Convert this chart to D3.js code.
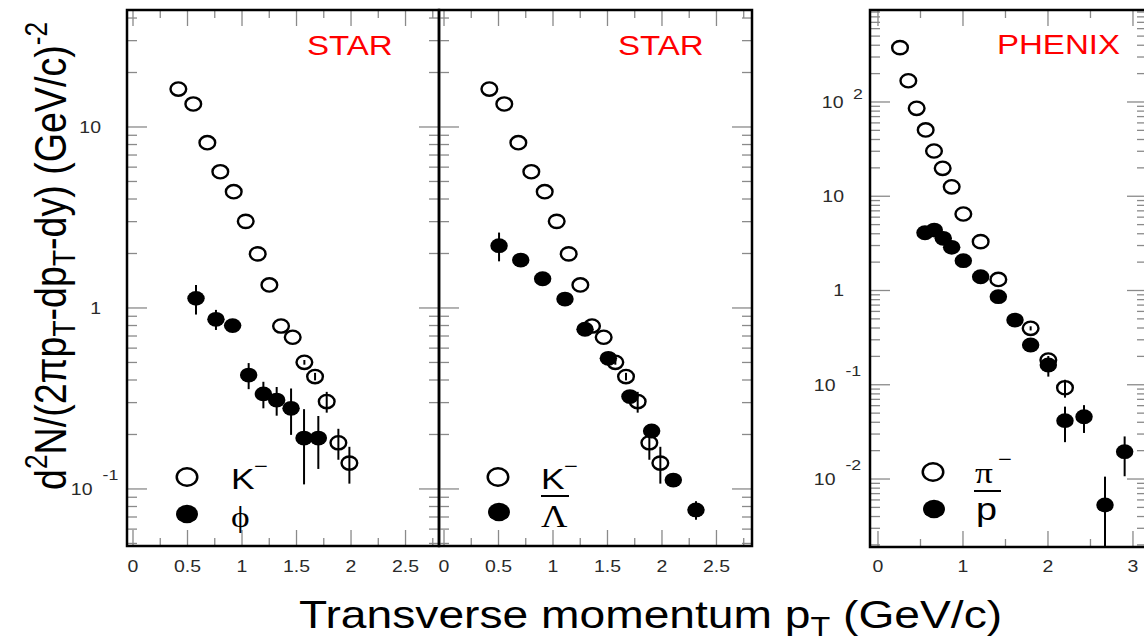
<!DOCTYPE html>
<html><head><meta charset="utf-8">
<script src="https://cdn.jsdelivr.net/npm/d3@7"></script>
<style>body{margin:0;background:#fff}svg{display:block}</style>
</head><body>
<svg id="c" width="1144" height="640"></svg>
<script>
// ---------------- DATA ----------------
// STAR K- (same points in both STAR panels)
const ptKminus    = [0.416,0.553,0.682,0.801,0.924,1.034,1.144,1.251,1.358,1.465,1.572,1.670,1.777,1.884,1.985];
const yieldKminus = [16.2,13.4,8.19,5.66,4.39,3.01,1.99,1.34,0.795,0.689,0.501,0.418,0.304,0.180,0.139];
const errKminus   = [0,0,0,0,0,0,0,0,0,0,0.015,0.02,0.04,0.035,0.032];
// STAR phi
const ptPhi    = [0.578,0.761,0.914,1.061,1.196,1.318,1.450,1.569,1.700];
const yieldPhi = [1.13,0.866,0.799,0.426,0.335,0.310,0.279,0.191,0.191];
const errPhi   = [0.21,0.11,0.06,0.07,0.056,0.056,0.08,0.085,0.062];
// STAR anti-Lambda
const ptLbar    = [0.505,0.704,0.905,1.110,1.294,1.508,1.706,1.905,2.104,2.312];
const yieldLbar = [2.21,1.84,1.45,1.12,0.763,0.527,0.324,0.209,0.112,0.0766];
const errLbar   = [0.4,0.1,0.06,0.05,0.03,0.02,0.02,0.015,0.008,0.009];
// PHENIX pi-
const ptPi    = [0.259,0.357,0.455,0.561,0.659,0.761,0.867,1.004,1.208,1.416,1.796,2.004,2.2];
const yieldPi = [377,168,85.7,50.5,30.2,19.8,12.6,6.48,3.30,1.31,0.397,0.183,0.093];
const errPi   = [0,0,0,0,0,0,0,0,0,0,0.02,0.01,0.02];
// PHENIX anti-proton
const ptPbar    = [0.553,0.662,0.768,0.867,1.004,1.208,1.416,1.612,1.796,2.004,2.2,2.424,2.671,2.902];
const yieldPbar = [4.10,4.38,3.58,2.87,2.07,1.40,0.859,0.486,0.264,0.162,0.0416,0.0458,0.0053,0.0195];
const errPbar   = [0,0,0,0,0,0,0,0,0.02,0.04,0.017,0.015,0.0053,0.0088];
// ticks
const xMajorStar   = [0,0.5,1,1.5,2,2.5];
const xMinorStar   = [0.25,0.75,1.25,1.75,2.25,2.75];
const xMajorPhenix = [0,1,2,3];
const xMinorPhenix = [0.5,1.5,2.5];
const xLabelsStar   = ["0","0.5","1","1.5","2","2.5"];
const xLabelsPhenix = ["0","1","2","3"];
const yLabelValsStar   = [0.1,1,10];
const yLabelValsPhenix = [0.01,0.1,1,10,100];
const yLabelTxtStar    = [["10","-1"],["1",""],["10",""]];
const yLabelTxtPhenix  = [["10","-2"],["10","-1"],["1",""],["10",""],["10","2"]];

// ---------------- LAYOUT ----------------
const SX = 1.18;                 // horizontal stretch of the whole picture
const L = px => px / SX;         // screen x -> local x
const svg = d3.select('#c');
const root = svg.append('g').attr('transform', `scale(${SX},1)`);
const defs = svg.append('defs');
const SANS = "'Liberation Sans', Arial, Helvetica, sans-serif";
const SERIF = "'Liberation Serif', 'Times New Roman', serif";

const panels = [
  { left:127, right:439, top:10, bottom:546, xd:[-0.055,2.807], yd:[0.0484,44.3],
    xMajor:xMajorStar, xMinor:xMinorStar, xLabels:xLabelsStar,
    yLabVals:yLabelValsStar, yLabTxt:yLabelTxtStar,
    tag:'STAR', tagX:307, tagY:55,
    open:{pt:ptKminus, v:yieldKminus, e:errKminus},
    fill:{pt:ptPhi, v:yieldPhi, e:errPhi} },
  { left:439, right:752, top:10, bottom:546, xd:[-0.046,2.826], yd:[0.0484,44.3],
    xMajor:xMajorStar, xMinor:xMinorStar, xLabels:xLabelsStar,
    yLabVals:null,
    tag:'STAR', tagX:618, tagY:55,
    open:{pt:ptKminus, v:yieldKminus, e:errKminus},
    fill:{pt:ptLbar, v:yieldLbar, e:errLbar} },
  { left:870, right:1147, top:10, bottom:547, xd:[-0.094,3.165], yd:[0.0019,946],
    xMajor:xMajorPhenix, xMinor:xMinorPhenix, xLabels:xLabelsPhenix,
    yLabVals:yLabelValsPhenix, yLabTxt:yLabelTxtPhenix,
    tag:'PHENIX', tagX:997, tagY:54,
    open:{pt:ptPi, v:yieldPi, e:errPi},
    fill:{pt:ptPbar, v:yieldPbar, e:errPbar} }
];

function logTicks(dom){
  const out=[];
  for(let k=Math.floor(Math.log10(dom[0])); k<=Math.ceil(Math.log10(dom[1])); k++){
    for(let m=1;m<=9;m++){
      const v=m*Math.pow(10,k);
      if(v>=dom[0] && v<=dom[1]) out.push({v, major:m===1});
    }
  }
  return out;
}

panels.forEach((p,i)=>{
  const x = d3.scaleLinear().domain(p.xd).range([L(p.left), L(p.right)]);
  const y = d3.scaleLog().domain(p.yd).range([p.bottom, p.top]);
  const g = root.append('g');
  const ln = (x1,y1,x2,y2,col,w)=>g.append('line').attr('x1',x1).attr('y1',y1).attr('x2',x2).attr('y2',y2)
      .attr('stroke',col).attr('stroke-width',w).attr('vector-effect','non-scaling-stroke');

  // ticks
  const tc='#8a8a8a', tw=1.3;
  p.xMajor.forEach(v=>{ ln(x(v),p.bottom,x(v),p.bottom-16,tc,tw); ln(x(v),p.top,x(v),p.top+16,tc,tw); });
  p.xMinor.forEach(v=>{ ln(x(v),p.bottom,x(v),p.bottom-8,tc,tw); ln(x(v),p.top,x(v),p.top+8,tc,tw); });
  logTicks(p.yd).forEach(t=>{
    const len = L(t.major?20:10);
    ln(L(p.left),y(t.v),L(p.left)+len,y(t.v),tc,tw);
    ln(L(p.right),y(t.v),L(p.right)-len,y(t.v),tc,tw);
  });

  // frame
  g.append('rect').attr('x',L(p.left)).attr('y',p.top).attr('width',L(p.right)-L(p.left)).attr('height',p.bottom-p.top)
    .attr('fill','none').attr('stroke','#000').attr('stroke-width',2.5).attr('vector-effect','non-scaling-stroke');

  // x tick labels
  p.xMajor.forEach((v,j)=>{
    g.append('text').attr('x',x(v)).attr('y',572).attr('text-anchor','middle')
      .attr('font-family',SANS).attr('font-size',16.5).attr('fill','#2a2a2a').text(p.xLabels[j]);
  });
  // y tick labels
  if(p.yLabVals){
    p.yLabVals.forEach((v,j)=>{
      const [base,ex] = p.yLabTxt[j];
      const yy = y(v)+6;
      if(!ex){
        g.append('text').attr('x',L(p.left-26)).attr('y',yy).attr('text-anchor','end')
          .attr('font-family',SANS).attr('font-size',16.5).attr('fill','#2a2a2a').text(base);
      } else {
        const neg = ex.startsWith('-');
        g.append('text').attr('x',L(p.left-(neg?34.5:26.5))).attr('y',yy).attr('text-anchor','end')
          .attr('font-family',SANS).attr('font-size',16.5).attr('fill','#2a2a2a').text(base);
        g.append('text').attr('x',L(p.left-(neg?24.5:17))).attr('y',yy-(neg?15:9)).attr('text-anchor','start')
          .attr('font-family',SANS).attr('font-size',15).attr('fill','#2a2a2a').text(ex);
      }
    });
  }

  // experiment tag
  g.append('text').attr('x',L(p.tagX)).attr('y',p.tagY).attr('font-family',SANS).attr('font-size',28)
    .attr('fill','#ff0000').text(p.tag);

  // data with clip
  const cid='clip'+i;
  defs.append('clipPath').attr('id',cid).append('rect')
    .attr('x',L(p.left)).attr('y',p.top).attr('width',L(p.right)-L(p.left)).attr('height',p.bottom-p.top);
  const dg = g.append('g').attr('clip-path',`url(#${cid})`);
  const ybar = v => v<=p.yd[0] ? p.bottom+5 : y(v);
  [p.open,p.fill].forEach(s=>{
    s.pt.forEach((pt,k)=>{
      if(s.e[k]>0){
        dg.append('line').attr('x1',x(pt)).attr('x2',x(pt))
          .attr('y1',ybar(s.v[k]+s.e[k])).attr('y2',ybar(s.v[k]-s.e[k]))
          .attr('stroke','#000').attr('stroke-width',2).attr('vector-effect','non-scaling-stroke');
      }
    });
  });
  dg.selectAll('circle.o').data(p.open.pt.map((pt,k)=>[pt,p.open.v[k]])).join('circle')
    .attr('cx',d=>x(d[0])).attr('cy',d=>y(d[1])).attr('r',6.65)
    .attr('fill','none').attr('stroke','#000').attr('stroke-width',2.4).attr('vector-effect','non-scaling-stroke');
  dg.selectAll('circle.f').data(p.fill.pt.map((pt,k)=>[pt,p.fill.v[k]])).join('circle')
    .attr('cx',d=>x(d[0])).attr('cy',d=>y(d[1])).attr('r',7.4).attr('fill','#000');
});

// ---------------- LEGENDS ----------------
function legOpen(cx,cy){ root.append('circle').attr('cx',L(cx)).attr('cy',cy).attr('r',8.7).attr('fill','none')
  .attr('stroke','#000').attr('stroke-width',2.5).attr('vector-effect','non-scaling-stroke'); }
function legFill(cx,cy){ root.append('circle').attr('cx',L(cx)).attr('cy',cy).attr('r',9.3).attr('fill','#000'); }
function txt(xp,yp,s,size,fam){ return root.append('text').attr('x',L(xp)).attr('y',yp).attr('font-family',fam||SANS)
  .attr('font-size',size).attr('fill','#000').text(s); }
function bar(x1,x2,yp){ root.append('line').attr('x1',L(x1)).attr('x2',L(x2)).attr('y1',yp).attr('y2',yp)
  .attr('stroke','#000').attr('stroke-width',2).attr('vector-effect','non-scaling-stroke'); }

// panel 1
legOpen(187,477); legFill(187,514);
txt(231,489,'K',30); txt(254,473,'\u2212',20);
txt(231,527,'\u03D5',30,SERIF);
// panel 2
legOpen(498,477); legFill(499,512);
txt(541,489,'K',30); txt(564,473,'\u2212',20);
bar(541,569,496);
txt(541,527,'\u039B',31,SERIF);
// panel 3
legOpen(933,472); legFill(934,509);
txt(975,483,'\u03C0',30,SERIF); txt(998,466,'\u2212',20);
bar(974,1001,491);
txt(976,520,'p',32);

// ---------------- AXIS TITLES ----------------
const xt = root.append('text').attr('x',L(299)).attr('y',628).attr('font-family',SANS).attr('font-size',39).attr('fill','#000');
xt.append('tspan').text('Transverse momentum p');
xt.append('tspan').attr('font-size','0.7em').attr('dy',8).text('T');
xt.append('tspan').attr('dy',-8).text(' (GeV/c)');
{ const w = xt.node().getComputedTextLength(); xt.attr('font-size', 39*L(703)/w); }

const yt = root.append('text').attr('transform',`translate(${L(66)},490) rotate(-90)`)
  .attr('font-family',SANS).attr('font-size',38).attr('fill','#000');
yt.append('tspan').text('d');
yt.append('tspan').attr('font-size','0.7em').attr('dy',-16).text('2');
yt.append('tspan').attr('dy',16).text('N/(2\u03C0p');
yt.append('tspan').attr('font-size','0.7em').attr('dy',8).text('T');
yt.append('tspan').attr('dy',-8).text('-dp');
yt.append('tspan').attr('font-size','0.7em').attr('dy',8).text('T');
yt.append('tspan').attr('dy',-8).text('-dy) (GeV/c)');
yt.append('tspan').attr('font-size','0.7em').attr('dy',-16).text('-2');
{ const w = yt.node().getComputedTextLength(); yt.attr('font-size', 38*468/w); }
</script>
</body></html>
